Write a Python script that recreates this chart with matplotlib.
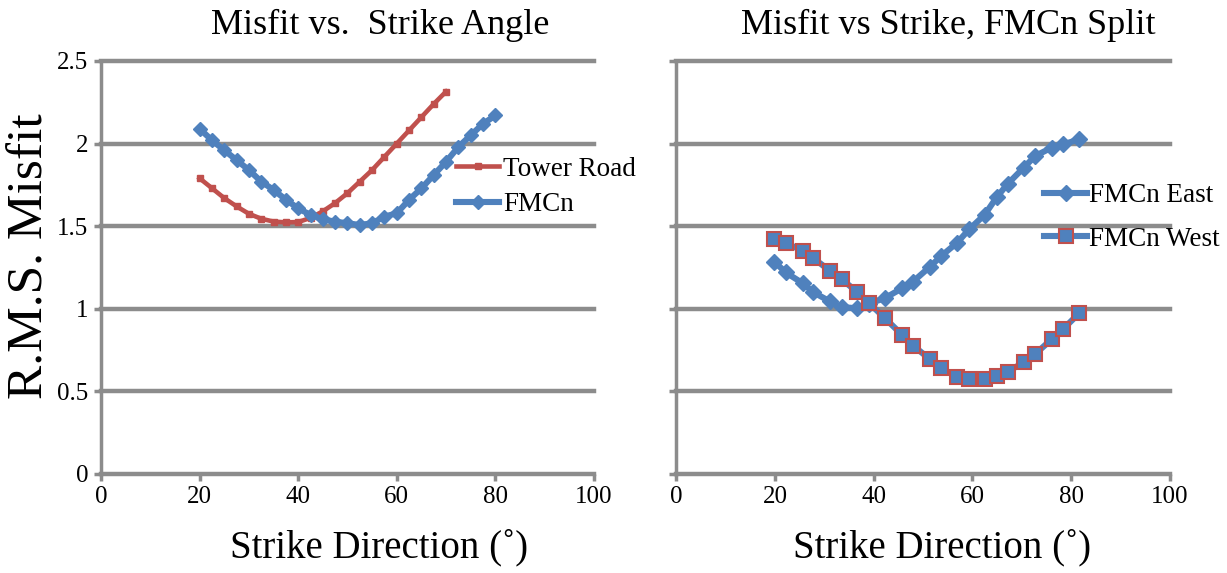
import numpy as np
import matplotlib
matplotlib.use("Agg")
import matplotlib.pyplot as plt

# left panel: misfit vs strike angle
tower_x = [20, 22.5, 25, 27.5, 30, 32.5, 35, 37.5, 40, 42.5, 45, 47.5, 50,
           52.5, 55, 57.5, 60, 62.5, 65, 67.5, 70]
tower_y = [1.79, 1.73, 1.67, 1.62, 1.575, 1.545, 1.528, 1.523, 1.525, 1.55,
           1.59, 1.64, 1.70, 1.77, 1.84, 1.92, 2.00, 2.08, 2.16, 2.24, 2.315]

fmcn_x = [20, 22.5, 25, 27.5, 30, 32.5, 35, 37.5, 40, 42.5, 45, 47.5, 50,
          52.5, 55, 57.5, 60, 62.5, 65, 67.5, 70, 72.5, 75, 77.5, 80]
fmcn_y = [2.09, 2.02, 1.96, 1.90, 1.84, 1.77, 1.72, 1.66, 1.608, 1.568,
          1.542, 1.527, 1.518, 1.507, 1.518, 1.558, 1.578, 1.66, 1.729,
          1.81, 1.89, 1.98, 2.05, 2.12, 2.17]

# right panel: FMCn split east / west
split_x = [19.9, 22.2, 25.6, 27.8, 31.1, 33.5, 36.7, 39.0, 42.3, 45.8, 48.0,
           51.4, 53.7, 56.9, 59.3, 62.5, 64.9, 67.1, 70.4, 72.7, 76.0, 78.3,
           81.6]
east_y = [1.285, 1.22, 1.155, 1.10, 1.045, 1.01, 1.003, 1.03, 1.065, 1.125,
          1.165, 1.255, 1.32, 1.40, 1.48, 1.57, 1.675, 1.755, 1.855, 1.925,
          1.975, 1.995, 2.025]
west_y = [1.423, 1.40, 1.35, 1.306, 1.231, 1.18, 1.10, 1.037, 0.942, 0.841,
          0.777, 0.694, 0.64, 0.589, 0.573, 0.573, 0.593, 0.619, 0.676,
          0.726, 0.815, 0.876, 0.973]

x_ticks = [0, 20, 40, 60, 80, 100]
y_ticks = [0, 0.5, 1, 1.5, 2, 2.5]

RED = "#C0504D"
BLUE = "#4F81BD"
GRID = "#8C8C8C"

plt.rcParams["font.family"] = ["Liberation Serif", "DejaVu Serif"]

fig = plt.figure(figsize=(12.27, 5.73), dpi=100)
ax1 = fig.add_axes([0.0823, 0.1728, 0.4018, 0.7208])
ax2 = fig.add_axes([0.551, 0.1728, 0.4026, 0.7208])


def style(ax, show_ylabels):
    ax.set_xlim(0, 100)
    ax.set_ylim(0, 2.5)
    ax.set_xticks(x_ticks)
    ax.set_yticks(y_ticks)
    ax.set_xticklabels([str(t) for t in x_ticks], fontsize=18)
    if show_ylabels:
        ax.set_yticklabels(["0", "0.5", "1", "1.5", "2", "2.5"], fontsize=18)
    else:
        ax.set_yticklabels([])
    for yv in y_ticks[1:]:
        ax.axhline(yv, color=GRID, lw=3.2, zorder=1, clip_on=False)
    for s in ["top", "right"]:
        ax.spines[s].set_visible(False)
    ax.spines["left"].set_color(GRID)
    ax.spines["left"].set_linewidth(2.5)
    ax.spines["bottom"].set_color(GRID)
    ax.spines["bottom"].set_linewidth(3.2)
    ax.tick_params(axis="both", colors=GRID, length=5, width=2.5,
                   labelcolor="black", pad=4)


style(ax1, True)
style(ax2, False)

ax1.plot(tower_x, tower_y, color=RED, lw=3.3, marker="s", ms=5,
         label="Tower Road", zorder=3, clip_on=False)
ax1.plot(fmcn_x, fmcn_y, color=BLUE, lw=4.4, marker="D", ms=7.5,
         label="FMCn", zorder=4, clip_on=False)

ax2.plot(split_x, east_y, color=BLUE, lw=4.4, marker="D", ms=8,
         label="FMCn East", zorder=3, clip_on=False)
ax2.plot(split_x, west_y, color=BLUE, lw=4.4, marker="s", ms=9.5,
         markeredgecolor=RED, markeredgewidth=1.5,
         label="FMCn West", zorder=4, clip_on=False)

ax1.legend(loc="center left", bbox_to_anchor=(0.72, 0.695), frameon=False,
           fontsize=19.5, handlelength=1.6, handletextpad=0.15,
           labelspacing=0.4, borderaxespad=0, borderpad=0)
ax2.legend(loc="center left", bbox_to_anchor=(0.745, 0.621), frameon=False,
           fontsize=19.5, handlelength=1.6, handletextpad=0.05,
           labelspacing=0.67, borderaxespad=0, borderpad=0)

fig.text(0.310, 0.985, "Misfit vs.  Strike Angle", fontsize=26,
         ha="center", va="top")
fig.text(0.773, 0.985, "Misfit vs Strike, FMCn Split", fontsize=26,
         ha="center", va="top")

fig.text(0.309, 0.012, "Strike Direction (\u02da)", fontsize=28,
         ha="center", va="bottom")
fig.text(0.768, 0.012, "Strike Direction (\u02da)", fontsize=28,
         ha="center", va="bottom")
fig.text(0.006, 0.553, "R.M.S. Misfit", fontsize=37, rotation=90,
         ha="left", va="center")

fig.savefig("out.png", dpi=100)
